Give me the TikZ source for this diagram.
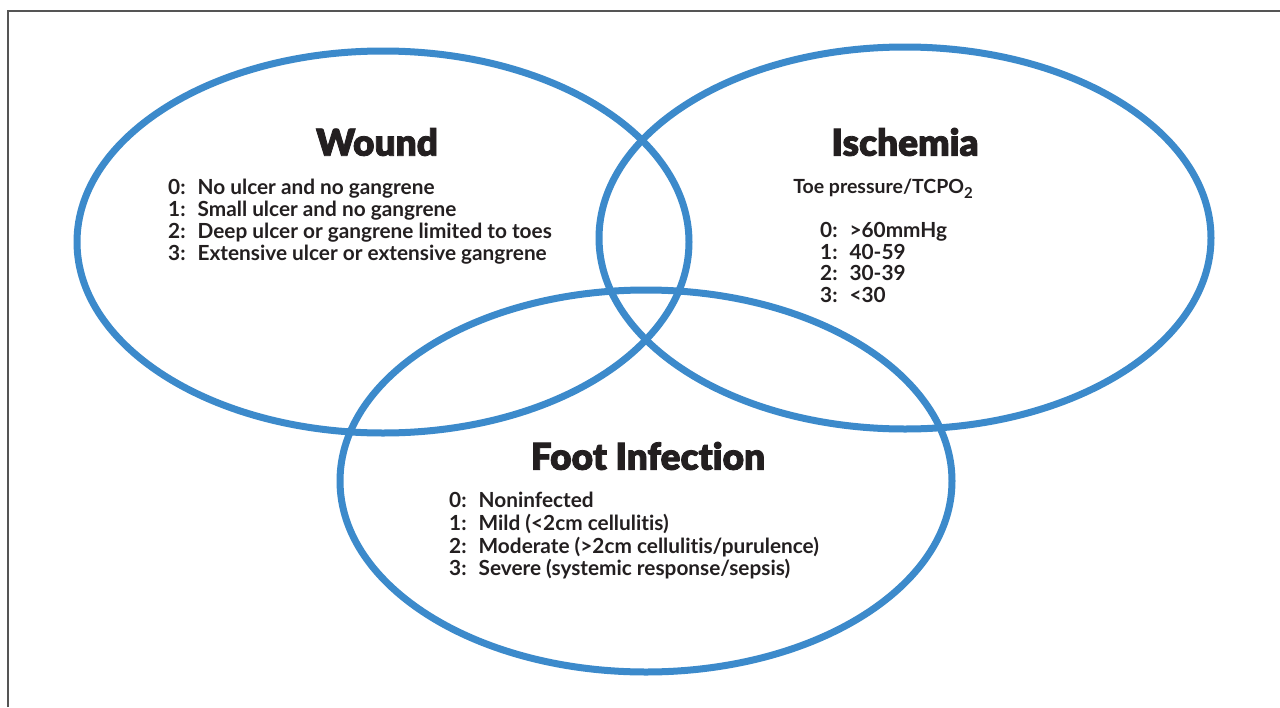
\documentclass[tikz,border=0pt]{standalone}
\usepackage{fontspec}
\setmainfont{Lato}[Ligatures=NoCommon]
\newfontfamily\titlefont{Lato Black}[Ligatures=NoCommon, FakeBold=2.2]
\usetikzlibrary{shapes.geometric}
\definecolor{vennblue}{HTML}{3C8ACB}
\definecolor{framegray}{HTML}{555555}
\definecolor{txt}{HTML}{231F20}
\tikzset{
  x=1pt, y=-1pt,
  venn/.style={ellipse, draw=vennblue, line width=7pt, inner sep=0pt,
    minimum width=612pt, minimum height=382pt},
  ttl/.style={font=\titlefont\fontsize{37}{40}\selectfont, text=txt, inner sep=0pt},
  lst/.style={font=\bfseries\fontsize{20.8}{21.4}\selectfont, text=txt, inner sep=0pt, anchor=north west, align=left},
  frameline/.style={draw=framegray, line width=1.5pt}
}
\begin{document}
\begin{tikzpicture}
\useasboundingbox (0,0) rectangle (1280,707);
\fill[white] (0,0) rectangle (1280,707);
\draw[frameline] (8,707) -- (8,11) -- (1280,11);

\node[venn] (wound) at (383,242) {};
\node[venn] (isch) at (905,238) {};
\node[venn] (foot) at (646,481) {};

\node[ttl] (woundt) at (377,142) {Wound};
\node[ttl] (ischt) at (905,142) {Ischemia};
\node[ttl] (foott) at (648,456) {Foot Infection};

\node[lst] (woundl) at (168,179) {%
\begin{tabular}{@{}l@{\hspace{12pt}}l@{}}
0: & No ulcer and no gangrene\\
1: & Small ulcer and no gangrene\\
2: & Deep ulcer or gangrene limited to toes\\
3: & Extensive ulcer or extensive gangrene
\end{tabular}};

\node[lst, anchor=north, font=\bfseries\fontsize{19.5}{21}\selectfont] (ischs) at (883,179) {Toe pressure/TCPO\raisebox{-0.45ex}{\fontsize{15}{15}\selectfont 2}};

\node[lst] (ischl) at (820,222) {%
\begin{tabular}{@{}l@{\hspace{12pt}}l@{}}
0: & >60mmHg\\
1: & 40-59\\
2: & 30-39\\
3: & <30
\end{tabular}};

\node[lst] (footl) at (449,492) {%
\begin{tabular}{@{}l@{\hspace{12pt}}l@{}}
0: & Noninfected\\
1: & Mild (<2cm cellulitis)\\
2: & Moderate (>2cm cellulitis/purulence)\\
3: & Severe (systemic response/sepsis)
\end{tabular}};
\end{tikzpicture}
\end{document}
